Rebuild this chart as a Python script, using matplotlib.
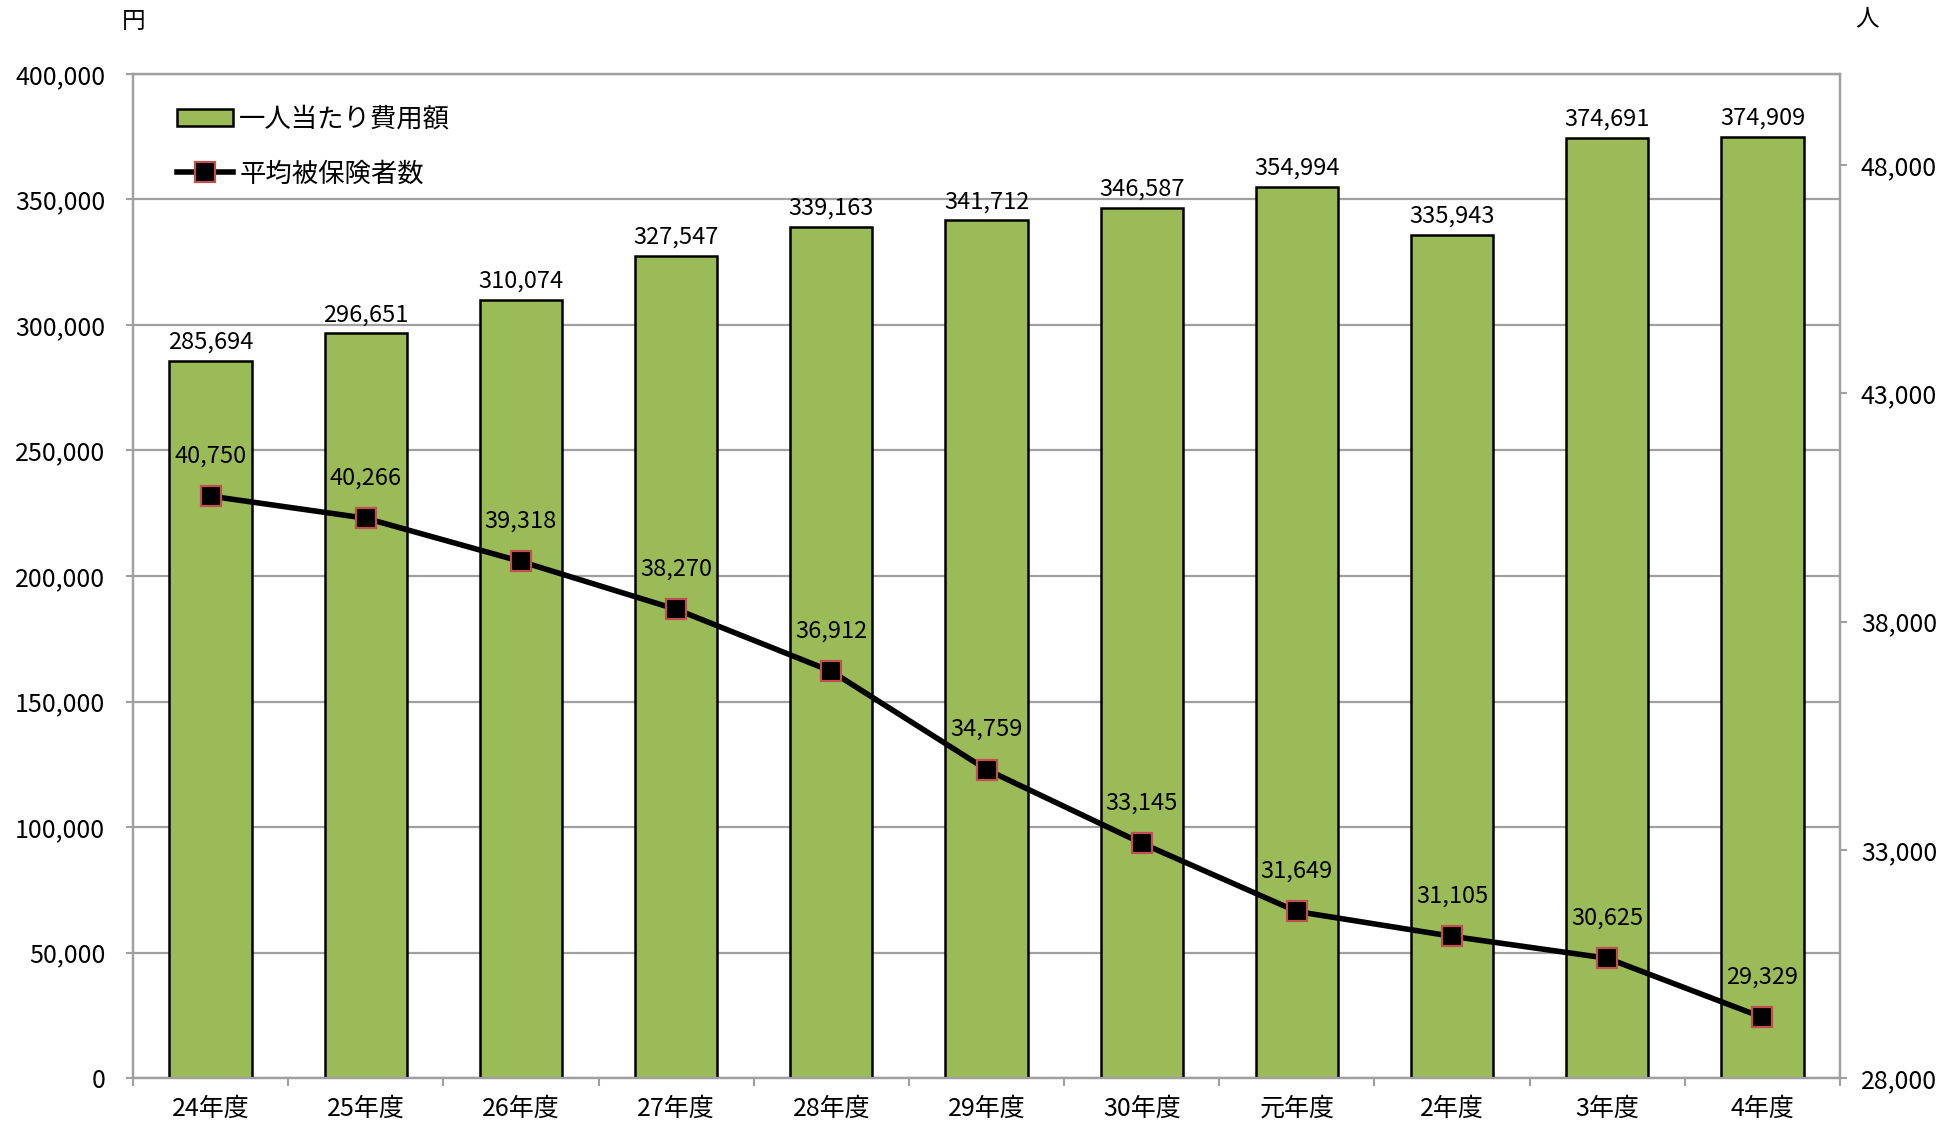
import matplotlib
matplotlib.use("Agg")
import matplotlib.pyplot as plt
from matplotlib.ticker import FuncFormatter, FixedLocator
import numpy as np

plt.rcParams['font.family'] = ['Noto Sans CJK JP', 'DejaVu Sans']

# data
years = ['24年度', '25年度', '26年度', '27年度', '28年度', '29年度',
         '30年度', '元年度', '2年度', '3年度', '4年度']
cost_per_person = [285694, 296651, 310074, 327547, 339163, 341712,
                   346587, 354994, 335943, 374691, 374909]
avg_insured = [40750, 40266, 39318, 38270, 36912, 34759,
               33145, 31649, 31105, 30625, 29329]

GRAY = '#a0a0a0'
BAR_GREEN = '#9bbb59'
MARK_RED = '#c0504d'

fig = plt.figure(figsize=(19.41, 11.26), dpi=100)
ax = fig.add_axes([0.0685, 0.0426, 0.8795, 0.8917])
ax2 = ax.twinx()

x = np.arange(len(years))
comma = FuncFormatter(lambda v, p: f'{int(v):,}')

# bars (left axis)
ax.bar(x, cost_per_person, width=0.53, color=BAR_GREEN, edgecolor='black',
       linewidth=1.8, zorder=3, label='一人当たり費用額')
for xi, v in zip(x, cost_per_person):
    ax.annotate(f'{v:,}', (xi, v), xytext=(0, 5), textcoords='offset points',
                ha='center', va='bottom', fontsize=17, zorder=5)

ax.set_ylim(0, 400000)
ax.set_yticks(np.arange(0, 400001, 50000))
ax.yaxis.set_major_formatter(comma)
ax.set_xlim(-0.5, len(years) - 0.5)
ax.set_xticks(x)
ax.set_xticklabels(years)
ax.xaxis.set_minor_locator(FixedLocator(np.arange(-0.5, len(years), 1.0)))
ax.tick_params(axis='x', which='major', length=0, pad=13, labelsize=18)
ax.tick_params(axis='x', which='minor', length=6, width=1.5, color=GRAY)
ax.tick_params(axis='y', length=5, width=1.5, color=GRAY, pad=15, labelsize=18)
ax.grid(axis='y', color=GRAY, linewidth=1.6, zorder=0)
ax.set_axisbelow(True)
for s in ax.spines.values():
    s.set_color(GRAY)
    s.set_linewidth(1.6)

# line (right axis)
ax2.plot(x, avg_insured, color='black', linewidth=4, marker='s',
         markersize=14, markerfacecolor='black', markeredgecolor=MARK_RED,
         markeredgewidth=1.6, zorder=4, label='平均被保険者数')
for xi, v in zip(x, avg_insured):
    ax2.annotate(f'{v:,}', (xi, v), xytext=(0, 29), textcoords='offset points',
                 ha='center', va='center', fontsize=17, zorder=2)

ax2.set_ylim(28000, 50000)
ax2.set_yticks(np.arange(28000, 48001, 5000))
ax2.yaxis.set_major_formatter(comma)
ax2.tick_params(axis='y', length=5, width=1.5, color=GRAY, pad=10, labelsize=18)
for s in ax2.spines.values():
    s.set_color(GRAY)
    s.set_linewidth(1.6)

ax.set_zorder(1)
ax2.set_zorder(2)
ax2.patch.set_visible(False)

# unit labels
fig.text(134 / 1941, 1 - 22 / 1126, '円', ha='center', va='center', fontsize=17)
fig.text(1867 / 1941, 1 - 19 / 1126, '人', ha='center', va='center', fontsize=17)

# legend
h1, l1 = ax.get_legend_handles_labels()
h2, l2 = ax2.get_legend_handles_labels()
ax2.legend(h1 + h2, l1 + l2, loc='upper left', bbox_to_anchor=(0.012, 0.992),
           frameon=False, fontsize=19, handlelength=2.1, handleheight=0.65,
           handletextpad=0.25, labelspacing=1.05)

fig.savefig('out.png', dpi=100)
